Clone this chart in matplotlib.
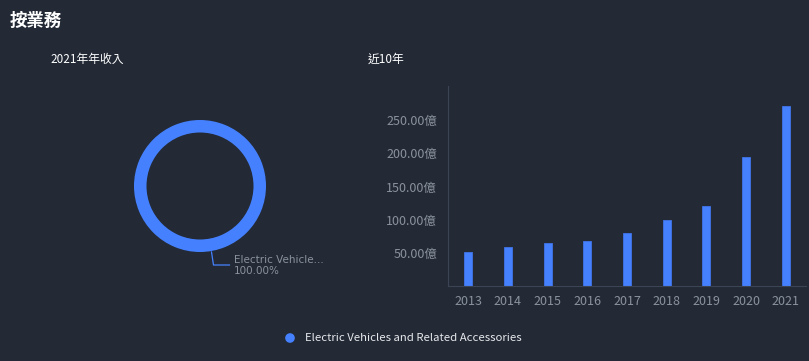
import matplotlib
matplotlib.use("Agg")
import matplotlib.pyplot as plt

plt.rcParams['font.family'] = ['Noto Sans CJK TC', 'DejaVu Sans']

BG = '#232a36'
BLUE = '#4581ff'
GRAY = '#8a929e'

# data
years = ['2013', '2014', '2015', '2016', '2017', '2018', '2019', '2020', '2021']
revenue = [51.2, 59.2, 65.2, 67.7, 79.8, 99.8, 120.9, 194.7, 271.5]  # 億
segments = ['Electric Vehicles and Related Accessories']
segment_share = [100.0]

W, H = 809, 361
fig = plt.figure(figsize=(W / 100, H / 100), dpi=100, facecolor=BG)

# full-figure overlay in pixel coords for the donut and texts
ov = fig.add_axes([0, 0, 1, 1])
ov.patch.set_alpha(0)

ov.pie(segment_share, center=(200, 186), radius=66, colors=[BLUE],
       wedgeprops=dict(width=12.5, linewidth=0), startangle=90, frame=True)
ov.set_xlim(0, W)
ov.set_ylim(H, 0)
ov.axis('off')

ov.text(10, 21, '按業務', color='white', fontsize=12.5, fontweight='bold', va='center', ha='left')
ov.text(50, 59, '2021年年收入', color='white', fontsize=8.5, va='center', ha='left')
ov.text(368, 59, '近10年', color='white', fontsize=8.5, va='center', ha='left')

ov.plot([211.5, 213.5, 229.5], [252, 265, 265], color=BLUE, lw=0.9)
name = segments[0]
short = name[:16] + '...' if len(name) > 16 else name
ov.text(234, 260, short, color=GRAY, fontsize=7.5, va='center', ha='left', family='DejaVu Sans')
ov.text(234, 271, '%.2f%%' % segment_share[0], color=GRAY, fontsize=7.5, va='center', ha='left',
        family='DejaVu Sans')

# legend
ov.scatter([290], [338], s=48, color=BLUE, edgecolors='none')
ov.text(305, 338, name, color='#e6e8eb', fontsize=8.2, va='center', ha='left')

# bar chart
ax = fig.add_axes([448.3 / W, 1 - 286.3 / H, (805.7 - 448.3) / W, (286.3 - 86) / H])
ax.set_facecolor(BG)
x = range(len(years))
ax.bar(x, revenue, width=0.2, color=BLUE, edgecolor='#3f74e6', linewidth=0.6)
ax.set_xlim(-0.5, len(years) - 0.5)
ax.set_ylim(0, 301.6)
ax.set_yticks([50, 100, 150, 200, 250])
ax.set_yticklabels(['%.2f億' % v for v in [50, 100, 150, 200, 250]])
ax.set_xticks(list(x))
ax.set_xticklabels(years)
ax.tick_params(axis='both', length=0, colors=GRAY, labelsize=9)
ax.tick_params(axis='y', pad=8)
ax.tick_params(axis='x', pad=6)
for s in ['top', 'right']:
    ax.spines[s].set_visible(False)
for s in ['left', 'bottom']:
    ax.spines[s].set_color('#3a4455')
    ax.spines[s].set_linewidth(0.8)

fig.savefig('out.png', dpi=100, facecolor=BG)
